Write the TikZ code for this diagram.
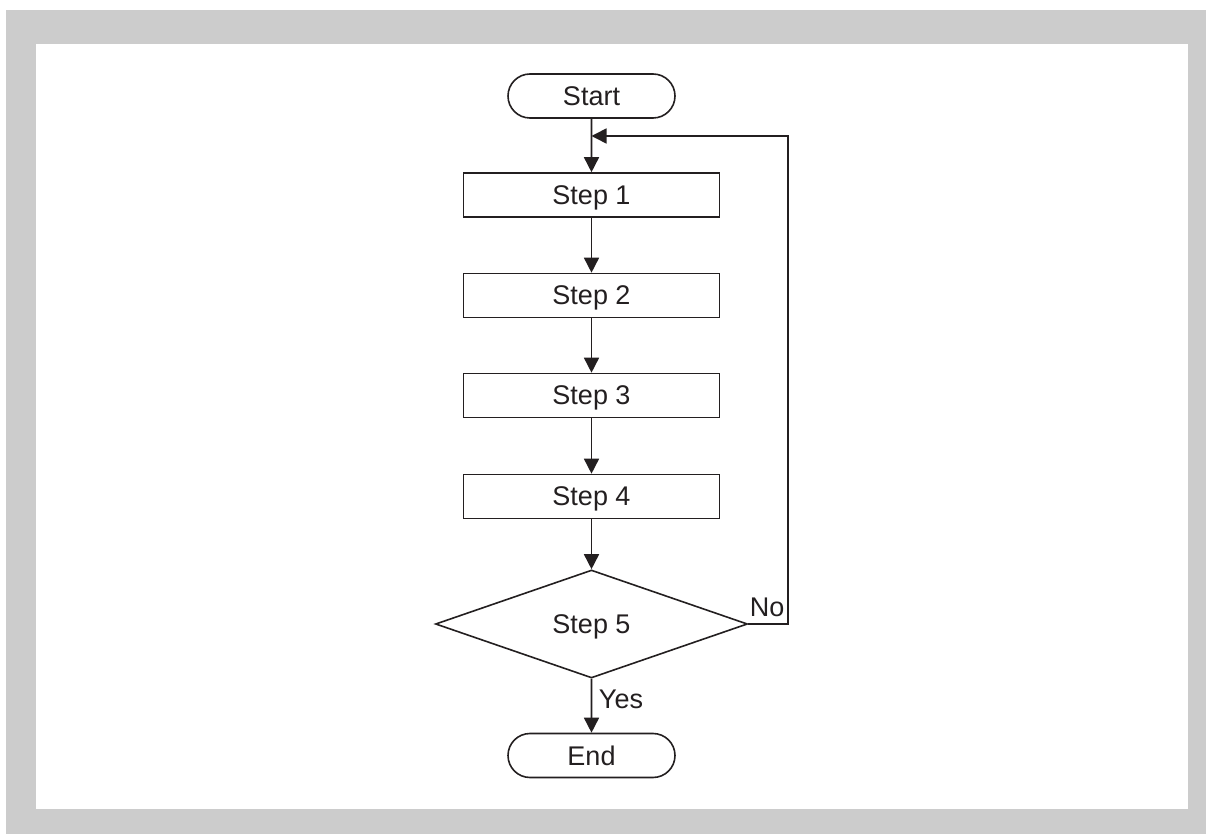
\documentclass[tikz,border=0pt]{standalone}
\usepackage{fontspec}
\setmainfont{Liberation Sans}
\usepackage{xcolor}
\usetikzlibrary{shapes.misc,shapes.geometric,arrows.meta}
\definecolor{framegray}{HTML}{CCCCCC}
\definecolor{ink}{HTML}{231F20}

\begin{document}
\begin{tikzpicture}[x=0.5pt,y=-0.5pt,line width=0.8pt,
    terminal/.style={rounded rectangle,draw=ink,minimum width=83.5pt,minimum height=22pt,inner sep=0pt},
    stepbox/.style={rectangle,draw=ink,minimum width=128pt,minimum height=22pt,inner sep=0pt,text depth=0pt},
    decision/.style={diamond,draw=ink,aspect=2.9,minimum width=156pt,minimum height=54pt,inner sep=0pt,text depth=0pt},
    arr/.style={draw=ink,-{Triangle[length=7.5pt,width=7.5pt]}},
    font=\fontsize{13.5}{16}\selectfont, text=ink]
    \useasboundingbox (0,0) rectangle (1206,834);
    \fill[framegray] (6,10) rectangle (1206,834);
    \fill[white] (36,44) rectangle (1188,809);

    \node[terminal] (start) at (591.5,96) {Start};
    \node[stepbox] (s1) at (591.5,195) {Step 1};
    \node[stepbox] (s2) at (591.5,295.5) {Step 2};
    \node[stepbox] (s3) at (591.5,395.5) {Step 3};
    \node[stepbox] (s4) at (591.5,496.5) {Step 4};
    \node[decision] (s5) at (591.5,624) {Step 5};
    \node[terminal] (end) at (591.5,755.5) {End};
    \coordinate (loop) at (591.5,136);

    \draw[arr] (start) -- (s1);
    \draw[arr] (s1) -- (s2);
    \draw[arr] (s2) -- (s3);
    \draw[arr] (s3) -- (s4);
    \draw[arr] (s4) -- (s5);
    \draw[arr] (s5) -- node[right,pos=0.38] {Yes} (end);
    \draw[arr] (s5.east) -- (788,624) -- (788,136) -- (loop);

%labels
    \node at (s5.east) [above right,xshift=-3pt] {No};

\end{tikzpicture}
\end{document}
